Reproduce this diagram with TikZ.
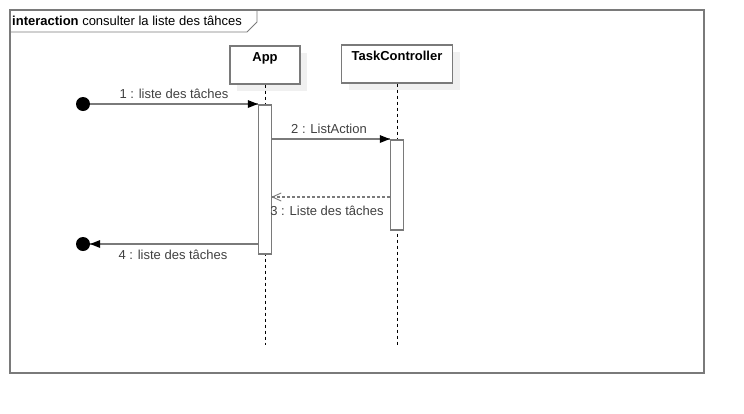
\documentclass[tikz,border=0pt]{standalone}
\usepackage{fontspec}
\setmainfont{Liberation Sans}
\usetikzlibrary{shadows}
\definecolor{umlline}{HTML}{7A7A7A}
\definecolor{umltext}{HTML}{404040}
\begin{document}
\begin{tikzpicture}[x=1pt,y=-1pt]
\tikzstyle{every node}+=[inner sep=0pt, font=\fontsize{13}{15}\selectfont]
\tikzstyle{lifebox}=[draw=umlline, line width=1.5pt, fill=white, font=\fontsize{13}{15}\selectfont\bfseries, text height=10pt, text depth=16pt, inner ysep=6pt, drop shadow={shadow xshift=7pt, shadow yshift=-7pt, fill=black!6, opacity=1}]
\tikzstyle{actbox}=[draw=umlline, line width=1.5pt, fill=white, minimum width=13pt]
\tikzstyle{lifeline}=[black, line width=0.7pt, dash pattern=on 3pt off 3pt]
\tikzstyle{msg}=[umlline, line width=1.5pt]
\tikzstyle{msglabel}=[text=umltext]
\useasboundingbox (0,0) rectangle (744,413);
\draw [umlline, line width=1.5pt] (10,10) rectangle (704,373);
\draw [umlline, line width=0.9pt] (10,32) -- (247,32) -- (257,22) -- (257,10);
\node (title) [anchor=west] at (12,21) {\textbf{interaction} consulter la liste des tâhces};
\node (app) [lifebox, minimum width=70pt, anchor=north] at (265,45) {App};
\node (tc) [lifebox, minimum width=111pt, anchor=north] at (397,44) {TaskController};
\coordinate (append) at (265,345);
\coordinate (tcend) at (397,345);
\draw [lifeline] (app.south) -- (append);
\draw [lifeline] (tc.south) -- (tcend);
\node (appact) [actbox, minimum height=149pt, anchor=north] at (265,104) {};
\node (tcact) [actbox, minimum height=90pt, anchor=north] at (397,139) {};
\node (start) [circle, fill=black, minimum size=14pt] at (83,104) {};
\node (stop) [circle, fill=black, minimum size=14pt] at (83,244) {};
\draw [msg] (start) -- (appact.north west);
\fill [black] (appact.north west) -- ++(-10,-4) -- ++(0,8) -- cycle;
\node (lbl1) [msglabel] at (174,94) {1 : liste des tâches};
\draw [msg] (appact.east |- tcact.north) -- (tcact.north west);
\fill [black] (tcact.north west) -- ++(-10,-4) -- ++(0,8) -- cycle;
\node (lbl2) [msglabel] at (329,129) {2 : ListAction};
\draw [msg, dash pattern=on 3pt off 2pt] (tcact.west |- 0,197) -- (appact.east |- 0,197);
\draw [msg, line width=0.9pt] (appact.east |- 0,197) ++(9,-4) -- ++(-9,4) -- ++(9,4);
\node (lbl3) [msglabel] at (327,211) {3 : Liste des tâches};
\draw [msg] (appact.west |- stop) -- (stop);
\fill [black] (stop.east) -- ++(10,-4) -- ++(0,8) -- cycle;
\node (lbl4) [msglabel] at (173,255) {4 : liste des tâches};
\end{tikzpicture}
\end{document}
